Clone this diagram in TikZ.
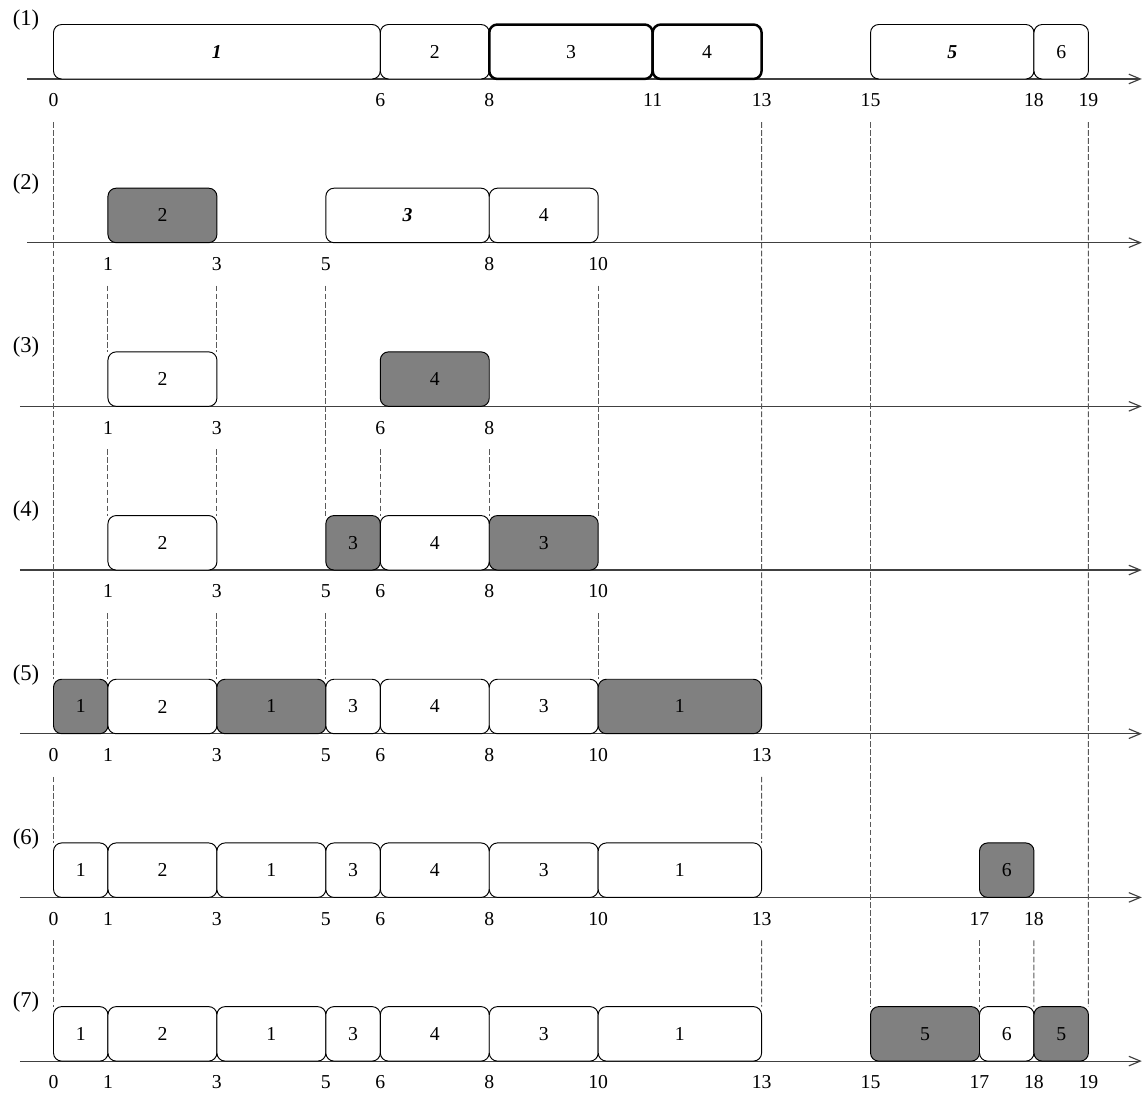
\documentclass[tikz,border=0pt]{standalone}
\usepackage{fontspec}
\setmainfont{Liberation Serif}
\usetikzlibrary{arrows.meta}
\definecolor{busygray}{gray}{0.5}
\begin{document}
\begin{tikzpicture}[
  font=\fontsize{10.3}{12}\selectfont,
  job/.style={draw=black, line width=0.5pt, rounded corners=0.15cm, minimum height=1cm,
              inner sep=0pt, outer sep=0pt, anchor=south west, fill=white},
  busy/.style={job, fill=busygray},
  heavy/.style={job, line width=1.3pt},
  axisline/.style={draw=black!75, line width=0.6pt,
                   -{Straight Barb[length=6pt,width=5pt,line width=0.6pt]}},
  guide/.style={draw=black!65, line width=0.5pt, dash pattern=on 3pt off 1.2pt},
  ticklabel/.style={inner sep=0pt, anchor=base},
  rowlabel/.style={inner sep=0pt, font=\fontsize{11.8}{14}\selectfont}
]
\useasboundingbox (-0.982,0) rectangle (20.002,-20.066);
\def\yA{-1.450}\def\yB{-4.455}\def\yC{-7.460}\def\yD{-10.465}
\def\yE{-13.470}\def\yF{-16.475}\def\yG{-19.480}

% axes
\coordinate (a1s) at (-0.486,\yA); \coordinate (a1e) at (19.98,\yA);
\coordinate (a2s) at (-0.486,\yB); \coordinate (a2e) at (19.98,\yB);
\coordinate (a3s) at (-0.615,\yC); \coordinate (a3e) at (19.98,\yC);
\coordinate (a4s) at (-0.615,\yD); \coordinate (a4e) at (19.98,\yD);
\coordinate (a5s) at (-0.615,\yE); \coordinate (a5e) at (19.98,\yE);
\coordinate (a6s) at (-0.615,\yF); \coordinate (a6e) at (19.98,\yF);
\coordinate (a7s) at (-0.615,\yG); \coordinate (a7e) at (19.98,\yG);
\foreach \i in {1,...,7} \draw[axisline] (a\i s) -- (a\i e);

% row labels
\node[rowlabel] (l1) at (-0.505,\yA+1.08) {(1)};
\node[rowlabel] (l2) at (-0.505,\yB+1.08) {(2)};
\node[rowlabel] (l3) at (-0.505,\yC+1.08) {(3)};
\node[rowlabel] (l4) at (-0.505,\yD+1.08) {(4)};
\node[rowlabel] (l5) at (-0.505,\yE+1.08) {(5)};
\node[rowlabel] (l6) at (-0.505,\yF+1.08) {(6)};
\node[rowlabel] (l7) at (-0.505,\yG+1.08) {(7)};

% tick labels and guide start points
\foreach \v in {0,6,8,11,13,15,18,19} {\node[ticklabel] (t1-\v) at (\v,\yA-0.51) {\v}; \coordinate (g1-\v) at (\v,\yA-0.79);}
\foreach \v in {1,3,5,8,10} {\node[ticklabel] (t2-\v) at (\v,\yB-0.51) {\v}; \coordinate (g2-\v) at (\v,\yB-0.79);}
\foreach \v in {1,3,6,8} {\node[ticklabel] (t3-\v) at (\v,\yC-0.51) {\v}; \coordinate (g3-\v) at (\v,\yC-0.79);}
\foreach \v in {1,3,5,6,8,10} {\node[ticklabel] (t4-\v) at (\v,\yD-0.51) {\v}; \coordinate (g4-\v) at (\v,\yD-0.79);}
\foreach \v in {0,1,3,5,6,8,10,13} {\node[ticklabel] (t5-\v) at (\v,\yE-0.51) {\v}; \coordinate (g5-\v) at (\v,\yE-0.79);}
\foreach \v in {0,1,3,5,6,8,10,13,17,18} {\node[ticklabel] (t6-\v) at (\v,\yF-0.51) {\v}; \coordinate (g6-\v) at (\v,\yF-0.79);}
\foreach \v in {0,1,3,5,6,8,10,13,15,17,18,19} {\node[ticklabel] (t7-\v) at (\v,\yG-0.51) {\v};}

% row 1
\node[job, minimum width=6cm] (r1a) at (0,\yA) {\textbf{\textit{1}}};
\node[job, minimum width=2cm] (r1b) at (6,\yA) {2};
\node[heavy, minimum width=3cm] (r1c) at (8,\yA) {3};
\node[heavy, minimum width=2cm] (r1d) at (11,\yA) {4};
\node[job, minimum width=3cm] (r1e) at (15,\yA) {\textbf{\textit{5}}};
\node[job, minimum width=1cm] (r1f) at (18,\yA) {6};
% row 2
\node[busy, minimum width=2cm] (r2a) at (1,\yB) {2};
\node[job, minimum width=3cm] (r2b) at (5,\yB) {\textbf{\textit{3}}};
\node[job, minimum width=2cm] (r2c) at (8,\yB) {4};
% row 3
\node[job, minimum width=2cm] (r3a) at (1,\yC) {2};
\node[busy, minimum width=2cm] (r3b) at (6,\yC) {4};
% row 4
\node[job, minimum width=2cm] (r4a) at (1,\yD) {2};
\node[busy, minimum width=1cm] (r4b) at (5,\yD) {3};
\node[job, minimum width=2cm] (r4c) at (6,\yD) {4};
\node[busy, minimum width=2cm] (r4d) at (8,\yD) {3};
% row 5
\node[busy, minimum width=1cm] (r5a) at (0,\yE) {1};
\node[job, minimum width=2cm] (r5b) at (1,\yE) {2};
\node[busy, minimum width=2cm] (r5c) at (3,\yE) {1};
\node[job, minimum width=1cm] (r5d) at (5,\yE) {3};
\node[job, minimum width=2cm] (r5e) at (6,\yE) {4};
\node[job, minimum width=2cm] (r5f) at (8,\yE) {3};
\node[busy, minimum width=3cm] (r5g) at (10,\yE) {1};
% row 6
\node[job, minimum width=1cm] (r6a) at (0,\yF) {1};
\node[job, minimum width=2cm] (r6b) at (1,\yF) {2};
\node[job, minimum width=2cm] (r6c) at (3,\yF) {1};
\node[job, minimum width=1cm] (r6d) at (5,\yF) {3};
\node[job, minimum width=2cm] (r6e) at (6,\yF) {4};
\node[job, minimum width=2cm] (r6f) at (8,\yF) {3};
\node[job, minimum width=3cm] (r6g) at (10,\yF) {1};
\node[busy, minimum width=1cm] (r6h) at (17,\yF) {6};
% row 7
\node[job, minimum width=1cm] (r7a) at (0,\yG) {1};
\node[job, minimum width=2cm] (r7b) at (1,\yG) {2};
\node[job, minimum width=2cm] (r7c) at (3,\yG) {1};
\node[job, minimum width=1cm] (r7d) at (5,\yG) {3};
\node[job, minimum width=2cm] (r7e) at (6,\yG) {4};
\node[job, minimum width=2cm] (r7f) at (8,\yG) {3};
\node[job, minimum width=3cm] (r7g) at (10,\yG) {1};
\node[busy, minimum width=2cm] (r7h) at (15,\yG) {5};
\node[job, minimum width=1cm] (r7i) at (17,\yG) {6};
\node[busy, minimum width=1cm] (r7j) at (18,\yG) {5};

% guide lines
\draw[guide] (g1-0) -- (r5a.north west);
\draw[guide] (g1-13) -- (r5g.north east);
\draw[guide] (g1-15) -- (r7h.north west);
\draw[guide] (g1-19) -- (r7j.north east);
\draw[guide] (g2-1) -- (r3a.north west);
\draw[guide] (g2-3) -- (r3a.north east);
\draw[guide] (g2-5) -- (r4b.north west);
\draw[guide] (g2-10) -- (r4d.north east);
\draw[guide] (g3-1) -- (r4a.north west);
\draw[guide] (g3-3) -- (r4a.north east);
\draw[guide] (g3-6) -- (r4c.north west);
\draw[guide] (g3-8) -- (r4c.north east);
\draw[guide] (g4-1) -- (r5b.north west);
\draw[guide] (g4-3) -- (r5b.north east);
\draw[guide] (g4-5) -- (r5d.north west);
\draw[guide] (g4-10) -- (r5g.north west);
\draw[guide] (g5-0) -- (r6a.north west);
\draw[guide] (g5-13) -- (r6g.north east);
\draw[guide] (g6-0) -- (r7a.north west);
\draw[guide] (g6-13) -- (r7g.north east);
\draw[guide] (g6-17) -- (r7i.north west);
\draw[guide] (g6-18) -- (r7i.north east);
\end{tikzpicture}
\end{document}
